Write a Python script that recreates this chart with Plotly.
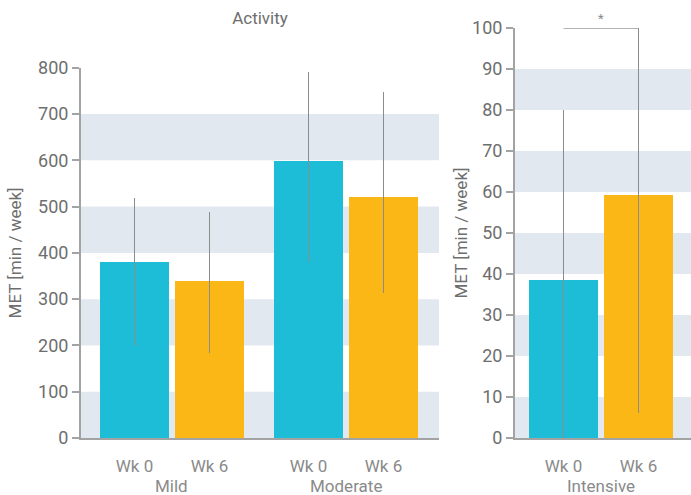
import plotly.graph_objects as go

# ---- data ----
groups = ["Mild", "Moderate", "Intensive"]
weeks = ["Wk 0", "Wk 6"]
mild_mean = [381, 340]
mild_upper = [519, 488]
mild_lower = [198, 184]
moderate_mean = [600, 521]
moderate_upper = [791, 748]
moderate_lower = [381, 313]
intensive_mean = [38.6, 59.2]
intensive_upper = [80, 100]
intensive_lower = [0, 6.2]
left_ticks = [0, 100, 200, 300, 400, 500, 600, 700, 800]
right_ticks = [0, 10, 20, 30, 40, 50, 60, 70, 80, 90, 100]
significance_level = 100
significance_text = "*"

# ---- style ----
C_WK0 = "#1dbdd8"
C_WK6 = "#fbb716"
BAND = "#e1e8ef"
AXIS = "#a3a3a3"
TXT = "#6e6e6e"
TXT2 = "#8a8a8a"
FONT = "Roboto"
GROUP_STEP = 2.32
BAR_W = 0.92

fig = go.Figure()

left_sets = [(mild_mean, mild_upper, mild_lower), (moderate_mean, moderate_upper, moderate_lower)]
left_pos, left_text = [], []
for wi, (wk, col) in enumerate(zip(weeks, [C_WK0, C_WK6])):
    xs, ys, ep, em = [], [], [], []
    for gi, (m, u, l) in enumerate(left_sets):
        xs.append(gi * GROUP_STEP + wi)
        ys.append(m[wi])
        ep.append(u[wi] - m[wi])
        em.append(m[wi] - l[wi])
    fig.add_trace(go.Bar(x=xs, y=ys, width=BAR_W, marker_color=col, marker_line_width=0,
                         error_y=dict(type="data", symmetric=False, array=ep, arrayminus=em,
                                      color="#8c8c8c", thickness=1.5, width=0),
                         xaxis="x", yaxis="y", showlegend=False, hoverinfo="skip"))
for gi in range(len(left_sets)):
    for wi, wk in enumerate(weeks):
        left_pos.append(gi * GROUP_STEP + wi)
        left_text.append(wk)

right_pos = []
for wi, col in enumerate([C_WK0, C_WK6]):
    fig.add_trace(go.Bar(x=[wi], y=[intensive_mean[wi]], width=BAR_W, marker_color=col,
                         marker_line_width=0,
                         error_y=dict(type="data", symmetric=False,
                                      array=[intensive_upper[wi] - intensive_mean[wi]],
                                      arrayminus=[intensive_mean[wi] - intensive_lower[wi]],
                                      color="#8c8c8c", thickness=1.5, width=0),
                         xaxis="x2", yaxis="y2", showlegend=False, hoverinfo="skip"))
    right_pos.append(wi)

shapes = []
for i in range(0, len(left_ticks) - 1, 2):
    shapes.append(dict(type="rect", xref="x domain", yref="y", x0=0, x1=1,
                       y0=left_ticks[i], y1=left_ticks[i + 1], fillcolor=BAND,
                       line_width=0, layer="below"))
for i in range(0, len(right_ticks) - 1, 2):
    shapes.append(dict(type="rect", xref="x2 domain", yref="y2", x0=0, x1=1,
                       y0=right_ticks[i], y1=right_ticks[i + 1], fillcolor=BAND,
                       line_width=0, layer="below"))
# significance bracket
shapes.append(dict(type="line", xref="x2", yref="y2", x0=right_pos[0], x1=right_pos[1],
                   y0=significance_level, y1=significance_level,
                   line=dict(color="#9a9a9a", width=1.5)))

annotations = []
for gi, g in enumerate(groups[:2]):
    annotations.append(dict(x=gi * GROUP_STEP + 0.5, y=-0.117, xref="x", yref="paper",
                            text=g, showarrow=False, yanchor="middle",
                            font=dict(family=FONT, size=17, color=TXT2)))
annotations.append(dict(x=0.5, y=-0.117, xref="x2", yref="paper", text=groups[2],
                        showarrow=False, yanchor="middle",
                        font=dict(family=FONT, size=17, color=TXT2)))
annotations.append(dict(x=(right_pos[0] + right_pos[1]) / 2, y=significance_level,
                        xref="x2", yref="y2", text=significance_text, showarrow=False,
                        yanchor="bottom", yshift=0,
                        font=dict(family=FONT, size=13, color="#888")))

yaxis_common = dict(showgrid=False, zeroline=False, showline=True, linecolor=AXIS, linewidth=2,
                    ticks="outside", ticklen=7, tickcolor=AXIS, tickwidth=1.5,
                    tickfont=dict(family=FONT, size=18, color=TXT),
                    title=dict(text="MET [min / week]", font=dict(family=FONT, size=17, color=TXT)))
xaxis_common = dict(showgrid=False, zeroline=False, showline=True, linecolor=AXIS, linewidth=2,
                    ticks="", tickfont=dict(family=FONT, size=17, color=TXT2),
                    ticklabelstandoff=12)

fig.update_layout(
    width=691, height=495,
    margin=dict(l=81, r=0, t=28, b=57),
    plot_bgcolor="white", paper_bgcolor="white",
    bargap=0,
    title=dict(text="Activity", x=0.2935, xref="paper", xanchor="center",
               y=1 - 18 / 495, yref="container", yanchor="middle",
               font=dict(family=FONT, size=17, color=TXT)),
    xaxis=dict(domain=[0, 0.5869], range=[-0.713, 4.06], tickvals=left_pos, ticktext=left_text,
               **xaxis_common),
    yaxis=dict(domain=[0, 0.903], range=[0, 800], tickvals=left_ticks,
               **{**yaxis_common, "title": dict(yaxis_common["title"], standoff=12)}),
    xaxis2=dict(domain=[0.7115, 1], range=[-0.647, 1.70], tickvals=right_pos, ticktext=weeks,
                anchor="y2", **xaxis_common),
    yaxis2=dict(domain=[0, 1], range=[0, 100], tickvals=right_ticks, anchor="x2",
                **{**yaxis_common, "title": dict(yaxis_common["title"], standoff=0)}),
    shapes=shapes, annotations=annotations,
)

fig.write_html("out.html")
